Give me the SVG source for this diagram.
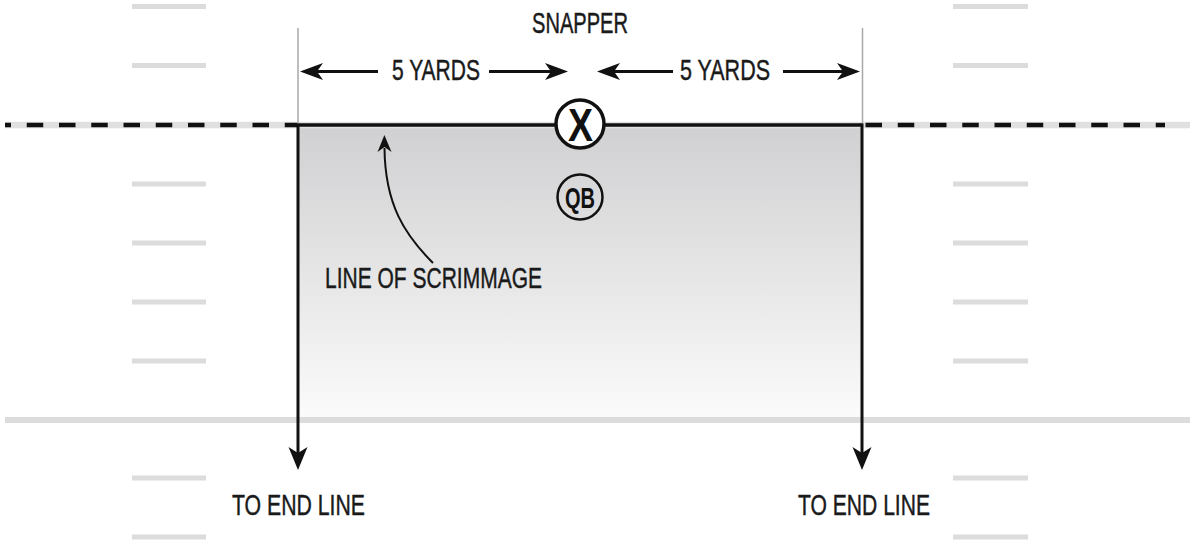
<svg xmlns="http://www.w3.org/2000/svg" width="1190" height="540" viewBox="0 0 1190 540">
  <defs>
    <linearGradient id="shade" x1="0" y1="0" x2="0" y2="1">
      <stop offset="0" stop-color="#d0d0d2"/>
      <stop offset="1" stop-color="#fbfbfb"/>
    </linearGradient>
    <marker id="head" markerUnits="userSpaceOnUse" orient="auto" refX="0" refY="0" markerWidth="30" markerHeight="30" overflow="visible">
      <path d="M10,0 L-13,-8.5 L-7,0 L-13,8.5 Z" fill="#111"/>
    </marker>
    <marker id="headV" markerUnits="userSpaceOnUse" orient="auto" refX="0" refY="0" markerWidth="30" markerHeight="30" overflow="visible">
      <path d="M10,0 L-13,-9.5 L-7,0 L-13,9.5 Z" fill="#111"/>
    </marker>
    <marker id="headS" markerUnits="userSpaceOnUse" orient="auto" refX="0" refY="0" markerWidth="30" markerHeight="30" overflow="visible">
      <path d="M13,0 L-4,-7 L1,0 L-4,7 Z" fill="#111"/>
    </marker>
  </defs>
  <style>
    .hash { fill: #dcdcdc; }
    .lbl { font-family: "Liberation Sans Narrow", "Liberation Sans", Arial, sans-serif; font-size: 29px; fill: #1a1a1a; stroke: #1a1a1a; stroke-width: 0.45; }
    .bold { font-family: "Liberation Sans Narrow", "Liberation Sans", Arial, sans-serif; font-weight: bold; fill: #111; }
    .arrow { stroke: #111; stroke-width: 3; fill: none; }
    .guide { stroke: #a8a8a8; stroke-width: 1.5; }
    .dash { stroke: #111; stroke-width: 4.5; stroke-dasharray: 16.5 15.75; }
  </style>

  <g id="field">
    <rect class="hash" x="132" y="4" width="74" height="5"/>
    <rect class="hash" x="132" y="63" width="74" height="5"/>
    <rect class="hash" x="132" y="181.5" width="74" height="5"/>
    <rect class="hash" x="132" y="240.5" width="74" height="5"/>
    <rect class="hash" x="132" y="299.5" width="74" height="5"/>
    <rect class="hash" x="132" y="358.5" width="74" height="5"/>
    <rect class="hash" x="132" y="475.5" width="74" height="5"/>
    <rect class="hash" x="132" y="534.5" width="74" height="5"/>
    <rect class="hash" x="953" y="4" width="75" height="5"/>
    <rect class="hash" x="953" y="63" width="75" height="5"/>
    <rect class="hash" x="953" y="181.5" width="75" height="5"/>
    <rect class="hash" x="953" y="240.5" width="75" height="5"/>
    <rect class="hash" x="953" y="299.5" width="75" height="5"/>
    <rect class="hash" x="953" y="358.5" width="75" height="5"/>
    <rect class="hash" x="953" y="475.5" width="75" height="5"/>
    <rect class="hash" x="953" y="534.5" width="75" height="5"/>
    <rect x="298" y="125" width="564" height="294" fill="url(#shade)"/>
    <rect x="5" y="417" width="1185" height="6" fill="#dcdcdc"/>
    <rect x="5" y="121.8" width="1185" height="6.5" fill="#e0e0e0"/>
    <line class="dash" x1="5" y1="125" x2="298" y2="125" stroke-dashoffset="10.5"/>
    <line class="dash" x1="862" y1="125" x2="1165" y2="125" stroke-dashoffset="28.75"/>
    <line x1="298" y1="125" x2="862" y2="125" stroke="#111" stroke-width="3.5"/>
    <line class="guide" x1="298" y1="28" x2="298" y2="125"/>
    <line class="guide" x1="862.5" y1="28" x2="862.5" y2="125"/>
  </g>

  <g id="connectors">
    <line class="arrow" x1="378" y1="71.5" x2="310" y2="71.5" marker-end="url(#head)"/>
    <line class="arrow" x1="489" y1="71.5" x2="558" y2="71.5" marker-end="url(#head)"/>
    <line class="arrow" x1="673" y1="71.5" x2="607" y2="71.5" marker-end="url(#head)"/>
    <line class="arrow" x1="783" y1="71.5" x2="850" y2="71.5" marker-end="url(#head)"/>
    <line class="arrow" x1="298" y1="123.5" x2="298" y2="460" marker-end="url(#headV)"/>
    <line class="arrow" x1="862" y1="123.5" x2="862" y2="460" marker-end="url(#headV)"/>
    <path d="M433,263 C405,235 385,205 384.5,148" stroke="#111" stroke-width="2" fill="none" marker-end="url(#headS)"/>
  </g>

  <g id="snapper">
    <circle cx="580" cy="124" r="24" fill="#fff" stroke="#111" stroke-width="3.5"/>
    <text class="bold" x="580.5" y="140.5" font-size="46" text-anchor="middle" textLength="25" lengthAdjust="spacingAndGlyphs">X</text>
  </g>
  <g id="qb">
    <circle cx="580" cy="197" r="22.5" fill="none" stroke="#111" stroke-width="2.5"/>
    <text class="bold" x="580" y="208" font-size="30" text-anchor="middle" textLength="30" lengthAdjust="spacingAndGlyphs">QB</text>
  </g>

  <g id="labels">
    <text id="lbl-snapper" class="lbl" x="532" y="33" textLength="96" lengthAdjust="spacingAndGlyphs">SNAPPER</text>
    <text id="lbl-yards-left" class="lbl" x="392" y="80" textLength="88" lengthAdjust="spacingAndGlyphs">5 YARDS</text>
    <text id="lbl-yards-right" class="lbl" x="680" y="80" textLength="90" lengthAdjust="spacingAndGlyphs">5 YARDS</text>
    <text id="lbl-los" class="lbl" x="325" y="288" textLength="217" lengthAdjust="spacingAndGlyphs">LINE OF SCRIMMAGE</text>
    <text id="lbl-end-left" class="lbl" x="232" y="515" textLength="133" lengthAdjust="spacingAndGlyphs">TO END LINE</text>
    <text id="lbl-end-right" class="lbl" x="798" y="515" textLength="132" lengthAdjust="spacingAndGlyphs">TO END LINE</text>
  </g>
</svg>
